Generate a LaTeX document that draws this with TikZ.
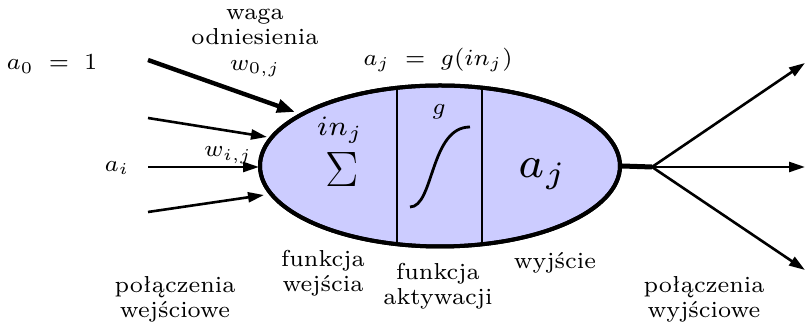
\documentclass[tikz,border=0pt]{standalone}
\usetikzlibrary{arrows.meta,shapes.geometric}
\definecolor{cellfill}{RGB}{204,204,255}
\begin{document}
\begin{tikzpicture}[x=0.5pt,y=-0.5pt,
  lbl/.style={align=center,inner sep=0pt,font=\fontsize{7}{7.6}\selectfont,scale=1.65,transform shape},
  big/.style={inner sep=0pt,font=\fontsize{7}{7.6}\selectfont,transform shape},
  inarrow/.style={line width=1.3pt,-{Triangle[length=8pt,width=5pt]}},
  thickarrow/.style={line width=2.2pt,-{Triangle[length=9pt,width=6.5pt]}},
  outarrow/.style={line width=1.3pt,-{Triangle[length=8pt,width=5pt]}}]
\useasboundingbox (0,0) rectangle (805,324);
% neuron
\node[ellipse,draw,line width=2pt,fill=cellfill,minimum width=180pt,minimum height=80.5pt,inner sep=0pt] (neuron) at (440,166) {};
\begin{scope}
\clip (neuron.center) ellipse [x radius=90pt,y radius=40.25pt];
\draw[line width=0.6pt] (397,70) -- (397,260);
\draw[line width=0.6pt] (482,70) -- (482,260);
\end{scope}
\node[ellipse,draw,line width=2pt,minimum width=180pt,minimum height=80.5pt,inner sep=0pt] (rim) at (neuron.center) {};
% contents
\node[big,scale=2] (inj) at (340,130) {$in_j$};
\node[inner sep=0pt,font=\fontsize{27}{30}\selectfont] (sum) at (342,170) {$\Sigma$};
\node[lbl] (g) at (439,112) {$g$};
\draw[line width=1.4pt] (410,207) .. controls (434,207) and (430,127) .. (470,127);
\node[big,scale=3.1] (aj) at (543,174) {$a_j$};
% labels
\node[lbl] (ajg) at (438,60) {$a_j\;=\;g(in_j)$};
\node[lbl] (bias) at (255,43) {waga\\odniesienia\\$w_{0,j}$};
\node[lbl] (a0) at (52,64) {$a_0\;=\;1$};
\node[lbl] (ai) at (117,168) {$a_i$};
\node[lbl] (wij) at (228,155) {$w_{i,j}$};
\node[lbl] (fw) at (323,273) {funkcja\\wejścia};
\node[lbl] (fa) at (438,286) {funkcja\\aktywacji};
\node[lbl] (wy) at (555,263) {wyjście};
\node[lbl] (pwe) at (175,299) {połączenia\\wejściowe};
\node[lbl] (pwy) at (704,299) {połączenia\\wyjściowe};
% input connectors
\coordinate (s0) at (148,60);  \coordinate (e0) at (295,112);
\coordinate (s1) at (148,118); \coordinate (e1) at (267,137);
\coordinate (s2) at (148,167); \coordinate (e2) at (259,167);
\coordinate (s3) at (148,212); \coordinate (e3) at (264,195);
\draw[thickarrow] (s0) -- (e0);
\draw[inarrow] (s1) -- (e1);
\draw[inarrow] (s2) -- (e2);
\draw[inarrow] (s3) -- (e3);
% output
\coordinate (split) at (652,167);
\coordinate (o1) at (805,63);
\coordinate (o2) at (805,167);
\coordinate (o3) at (805,270);
\draw[line width=2.5pt] (neuron.east) -- (split);
\draw[outarrow] (split) -- (o1);
\draw[outarrow] (split) -- (o2);
\draw[outarrow] (split) -- (o3);
\end{tikzpicture}
\end{document}
